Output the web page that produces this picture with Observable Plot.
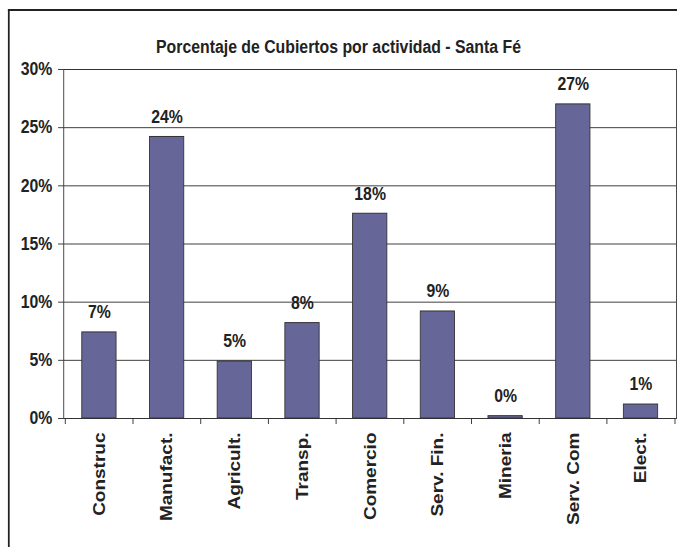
<!DOCTYPE html>
<html>
<head>
<meta charset="utf-8">
<script src="https://cdn.jsdelivr.net/npm/d3@7"></script>
<script src="https://cdn.jsdelivr.net/npm/@observablehq/plot@0.6"></script>
<style>
html, body { margin: 0; padding: 0; overflow: hidden; background: #fff; }
#wrap { position: absolute; left: 0; top: 0; width: 770px; height: 547px;
  transform: scaleX(0.87922); transform-origin: 0 0;
  font-family: "Liberation Sans", Arial, sans-serif; color: #222; }
#chart { position: absolute; left: 0; top: 0; width: 770px; height: 547px; }
#title { position: absolute; left: 0; top: 37px; width: 770px; text-align: center;
  font-weight: bold; font-size: 18px; line-height: 20px; color: #222; }
#frame { position: absolute; left: 9px; top: 9px; width: 900px; height: 700px;
  border-left: 2.3px solid #222; border-top: 2px solid #222; pointer-events: none; }
</style>
</head>
<body>
<div id="wrap">
  <div id="chart"></div>
  <div id="title"></div>
  <div id="frame"></div>
</div>
<script>
const title = "Porcentaje de Cubiertos por actividad - Santa Fé";
const categories = ["Construc", "Manufact.", "Agricult.", "Transp.", "Comercio", "Serv. Fin.", "Mineria", "Serv. Com", "Elect."];
const values = [7.4, 24.2, 4.9, 8.2, 17.6, 9.2, 0.2, 27.0, 1.2];
const labels = ["7%", "24%", "5%", "8%", "18%", "9%", "0%", "27%", "1%"];
const yTicks = [0, 5, 10, 15, 20, 25, 30];

document.getElementById("title").textContent = title;

const W = 770, H = 547, mL = 72, mR = 1, mT = 69, mB = 129;
const step = (W - mL - mR) / categories.length;
const data = categories.map((c, i) => ({cat: c, value: values[i], label: labels[i]}));
const last = [categories[categories.length - 1]];

const chart = Plot.plot({
  width: W, height: H,
  marginLeft: mL, marginRight: mR, marginTop: mT, marginBottom: mB,
  style: {background: "transparent", fontFamily: "'Liberation Sans', Arial, sans-serif",
          fontSize: "18px", fontWeight: "bold", color: "#222", overflow: "visible", maxWidth: "none"},
  x: {domain: categories, paddingInner: 0.5, paddingOuter: 0.25, axis: null},
  y: {domain: [0, 30], axis: null},
  marks: [
    Plot.gridY(yTicks, {stroke: "#333", strokeOpacity: 1, strokeWidth: 1}),
    Plot.frame({stroke: "#333", strokeWidth: 1}),
    Plot.barY(data, {x: "cat", y: "value", fill: "#666699", stroke: "#333", strokeWidth: 1}),
    Plot.ruleX(categories, {x: d => d, y1: 0, y2: 0, insetBottom: -6, dx: -step / 2, stroke: "#333"}),
    Plot.ruleX(last, {x: d => d, y1: 0, y2: 0, insetBottom: -6, dx: step / 2, stroke: "#333"}),
    Plot.axisY(yTicks, {tickSize: 6, tickPadding: 7, tickFormat: d => d + "%", label: null,
                        stroke: "#333", fontSize: 18, fontWeight: "bold", fill: "#222"}),
    Plot.axisX({tickSize: 0, tickPadding: 14, tickRotate: -90, label: null,
                fontSize: 19, fontWeight: "bold", fill: "#222"}),
    Plot.text(data, {x: "cat", y: "value", text: "label", dy: -20,
                     fontSize: 18, fontWeight: "bold", fill: "#222"})
  ]
});
document.getElementById("chart").appendChild(chart);
</script>
</body>
</html>
